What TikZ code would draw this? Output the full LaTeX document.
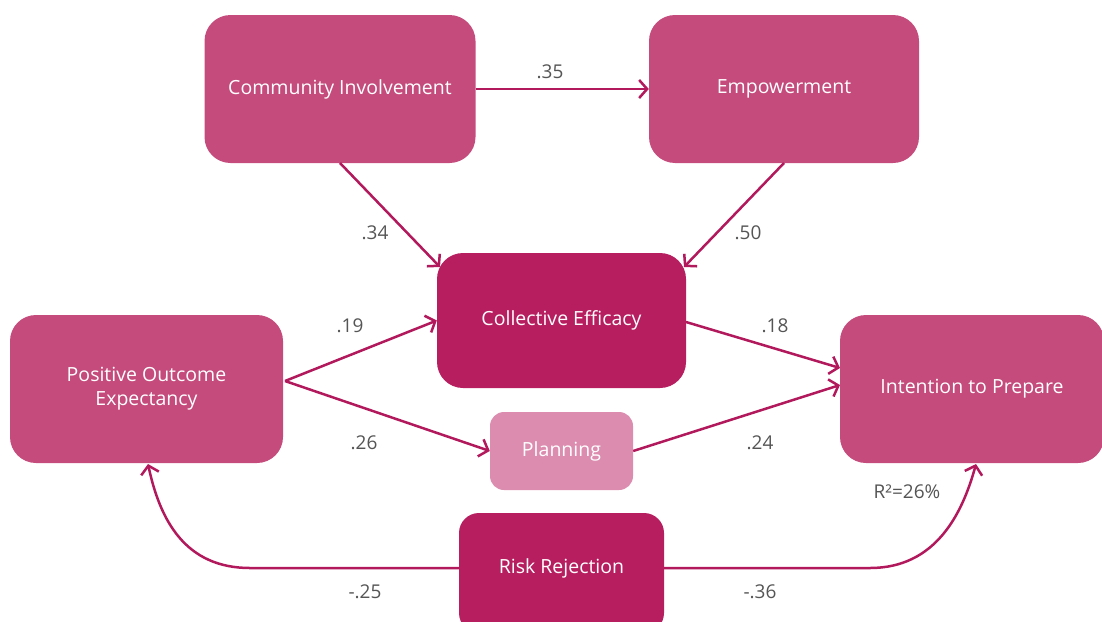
\documentclass[tikz,border=0pt]{standalone}
\usepackage{fontspec}
\setmainfont{Open Sans}
\usetikzlibrary{arrows.meta}
\definecolor{boxmid}{RGB}{196,75,124}
\definecolor{boxdark}{RGB}{183,30,95}
\definecolor{boxlight}{RGB}{220,140,175}
\definecolor{linec}{RGB}{178,24,92}
\definecolor{labc}{RGB}{85,85,85}
\begin{document}
\begin{tikzpicture}[x=1pt,y=-1pt,
  box/.style={fill=boxmid,rounded corners=26pt,text=white,font=\fontsize{19.5}{24}\selectfont,align=center,inner sep=0pt},
  darkbox/.style={box,fill=boxdark},
  lightbox/.style={box,fill=boxlight,rounded corners=14pt},
  conn/.style={draw=linec,line width=2.5pt,-{Straight Barb[length=8pt,width=18pt,line width=2.5pt]}},
  lab/.style={text=labc,font=\fontsize{19}{22}\selectfont}]
\useasboundingbox (0,0) rectangle (1102,621);
\node[box,minimum width=271pt,minimum height=148pt] (ci) at (340,89) {Community Involvement};
\node[box,minimum width=270pt,minimum height=148pt] (em) at (784,89) {Empowerment};
\node[darkbox,minimum width=249pt,minimum height=135pt] (ce) at (561.5,320.5) {Collective Efficacy};
\node[box,minimum width=273pt,minimum height=148pt] (poe) at (146.5,389) {Positive Outcome\\Expectancy};
\node[lightbox,minimum width=143pt,minimum height=78pt] (pl) at (561.5,451) {Planning};
\node[box,minimum width=264pt,minimum height=148pt] (itp) at (972,389) {Intention to Prepare};
\node[darkbox,minimum width=205pt,minimum height=120pt,rounded corners=20pt] (rr) at (561.5,573) {};
\node[text=white,font=\fontsize{19.5}{24}\selectfont] (rrt) at (561.5,568) {Risk Rejection};
\coordinate (cetl) at (440,267);
\coordinate (cetr) at (684,267);
\coordinate (poeo) at (285,381);
\coordinate (itpa) at (840,368);
\coordinate (itpb) at (840,385);
\coordinate (poeb) at (148,464);
\coordinate (itpbot) at (976,464);
\coordinate (lft) at (250,568);
\coordinate (rgt) at (870,568);
\draw[conn] (ci.east) -- (em.west);
\draw[conn] (340,163) -- (cetl);
\draw[conn] (784,163) -- (cetr);
\draw[conn] (poeo) -- (ce.west);
\draw[conn] (poeo) -- (pl.west);
\draw[conn] (686,322) -- (itpa);
\draw[conn] (pl.east) -- (itpb);
\draw[conn] (rr.west |- rrt) -- (lft) .. controls (185,568) and (160,520) .. (poeb);
\draw[conn] (rr.east |- rrt) -- (rgt) .. controls (935,568) and (962,515) .. (itpbot);
\node[lab] (l35) at (550,72) {.35};
\node[lab] (l34) at (375,233) {.34};
\node[lab] (l50) at (748,233) {.50};
\node[lab] (l19) at (350,326) {.19};
\node[lab] (l26) at (364,443) {.26};
\node[lab] (l18) at (775,326) {.18};
\node[lab] (l24) at (760,443) {.24};
\node[lab] (l25) at (365,592) {-.25};
\node[lab] (l36) at (760,592) {-.36};
\node[lab] (r2) at (907,492) {R²=26\%};
\end{tikzpicture}
\end{document}
